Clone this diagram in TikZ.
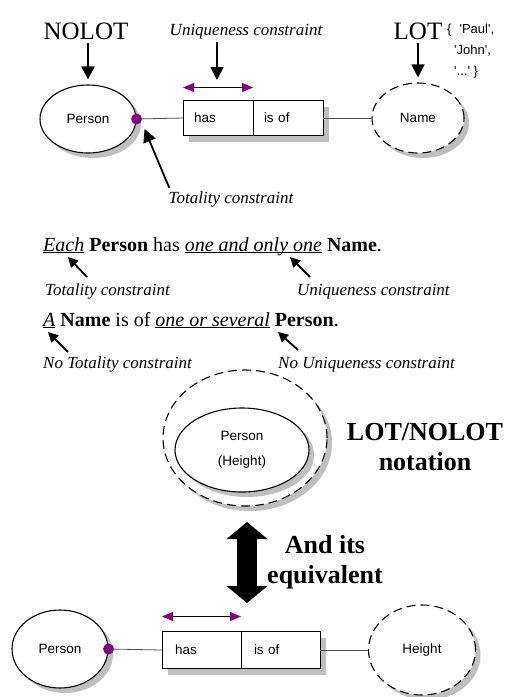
\documentclass[tikz,border=0pt]{standalone}
\usepackage{fontspec}
\setmainfont{Liberation Serif}
\setsansfont{Liberation Sans}
\usetikzlibrary{positioning,shapes.geometric,shadows,arrows.meta}
\definecolor{dotpurple}{RGB}{128,0,128}
\newcommand{\undl}[1]{\underline{\smash{#1}}}
\newcommand{\sq}{\textquotesingle}
\tikzset{entity node/.style={ellipse,draw,fill=white,line width=1.1pt,inner sep=0pt,
    font=\sffamily\fontsize{13.5}{25}\selectfont,align=center,
    drop shadow={shadow xshift=5pt,shadow yshift=-5pt,fill=black!25,opacity=1}},
  value node/.style={entity node,dash pattern=on 9pt off 5pt},
  role node/.style={rectangle,draw,fill=white,line width=0.8pt,outer sep=0pt,
    font=\sffamily\fontsize{13.5}{15}\selectfont,align=left,
    drop shadow={shadow xshift=6pt,shadow yshift=-6pt,fill=black!25,opacity=1}},
  total dot/.style={circle,fill=dotpurple,minimum size=11pt,inner sep=0pt},
  link/.style={draw=black!70,line width=0.8pt},
  uniq arrow/.style={line width=0.8pt,
    {Triangle[color=dotpurple,length=11pt,width=9pt]}-{Triangle[color=dotpurple,length=11pt,width=9pt]}},
  point arrow/.style={line width=1.8pt,-{Triangle[length=13pt,width=13pt]}},
  note arrow/.style={line width=1.8pt,-{Triangle[length=10pt,width=10pt]}},
  big arrow/.style={line width=20pt,{Triangle[length=17pt,width=40pt]}-{Triangle[length=17pt,width=40pt]}},
  title text/.style={font=\fontsize{25}{30}\selectfont},
  note text/.style={font=\itshape\fontsize{17}{20}\selectfont},
  head text/.style={font=\bfseries\fontsize{26}{30}\selectfont,align=center},
  line text/.style={font=\fontsize{20}{24}\selectfont,anchor=base west,inner sep=0pt},
}

\begin{document}
\begin{tikzpicture}[x=1pt,y=-1pt]
\useasboundingbox (0,0) rectangle (506,697);

%% top: the fact type
\node[entity node,minimum width=96pt,minimum height=68pt] (p1) at (88,119) {Person};
\node[role node,text width=48pt,inner xsep=11pt,minimum height=35pt,anchor=west] (r1) at (183,118) {has};
\node[role node,text width=48pt,inner xsep=11pt,minimum height=35pt] (r2) [right = 0pt of r1] {is of};
\node[value node,minimum width=92pt,minimum height=70pt] (n1) at (418,118) {Name};
\path[link] (p1.east) -- (r1.west);
\path[link] (r2.east) -- (n1.west);
\node[total dot] (d1) at (p1.east) {};
\draw[uniq arrow] ([yshift=13pt]r1.north west) -- ([yshift=13pt]r1.north east);

\node[title text,anchor=base] (nolot) at (86,39) {NOLOT};
\node[title text,anchor=base] (lot) at (418,39) {LOT};
\node[font=\sffamily\fontsize{13}{21}\selectfont,align=left,anchor=north west,inner sep=0pt] (vals) at (447,24)
  {\{\hspace{8pt}\sq Paul\sq,\\\hspace{7pt}\sq John\sq,\\\hspace{7pt}\sq...\sq\ \}};
\draw[point arrow] (p1.north |- nolot.south) -- ([yshift=5pt]p1.north);
\draw[point arrow] (n1.north |- lot.south) -- ([yshift=5pt]n1.north);

\node[note text,anchor=base] (uq) at (246,35) {Uniqueness constraint};
\coordinate (u1) at (217,80);
\draw[point arrow] (u1 |- uq.south) -- (u1);

\node[note text,anchor=base] (tot0) at (231,203) {Totality constraint};
\draw[point arrow] ([xshift=4pt]tot0.north west) -- ([shift={(8pt,-10pt)}]d1.center);

%% middle: the sentences
\node[line text] (s1) at (43,251)
  {\undl{\textit{Each}} \textbf{Person} has \undl{\textit{one and only one}} \textbf{Name}.};
\node[note text,anchor=base west,inner sep=0pt] (t1) at (45,295) {Totality constraint};
\node[note text,anchor=base west,inner sep=0pt] (u2) at (297,295) {Uniqueness constraint};
\node[line text] (s2) at (43,326)
  {\undl{\textit{A}} \textbf{Name} is of \undl{\textit{one or several}} \textbf{Person}.};
\node[note text,anchor=base west,inner sep=0pt] (t2) at (43,368) {No Totality constraint};
\node[note text,anchor=base west,inner sep=0pt] (u3) at (278,368) {No Uniqueness constraint};

\coordinate (a1) at (87,277);  \coordinate (e1) at (68,257);
\coordinate (a2) at (310,277); \coordinate (e2) at (290,257);
\coordinate (a3) at (68,352);  \coordinate (e3) at (48,332);
\coordinate (a4) at (298,350); \coordinate (e4) at (278,332);
\draw[note arrow] (a1) -- (e1);
\draw[note arrow] (a2) -- (e2);
\draw[note arrow] (a3) -- (e3);
\draw[note arrow] (a4) -- (e4);

%% bottom: LOT/NOLOT and its equivalent
\node[value node,minimum width=164pt,minimum height=136pt] (lot2) at (245,438) {};
\node[entity node,minimum width=134pt,minimum height=84pt] (p2) at (242,450) {Person\\(Height)};
\node[head text] (hd1) at (425,447) {LOT/NOLOT\\notation};

\coordinate (b1) at (247,522);
\coordinate (b2) at (247,603);
\draw[big arrow] (b1) -- (b2);
\node[head text] (hd2) at (325,562) {And its\\equivalent};

\node[entity node,minimum width=96pt,minimum height=78pt] (p3) at (60,649) {Person};
\node[role node,text width=53pt,inner xsep=13pt,minimum height=37pt,anchor=west] (r3) at (162,650) {has};
\node[role node,text width=53pt,inner xsep=13pt,minimum height=37pt] (r4) [right = 0pt of r3] {is of};
\node[value node,minimum width=107pt,minimum height=90pt] (h3) at (422,650) {Height};
\path[link] (p3.east) -- (r3.west);
\path[link] (r4.east) -- (h3.west);
\node[total dot] (d2) at (p3.east) {};
\draw[uniq arrow] ([yshift=15pt]r3.north west) -- ([yshift=15pt]r3.north east);
\end{tikzpicture}
\end{document}
